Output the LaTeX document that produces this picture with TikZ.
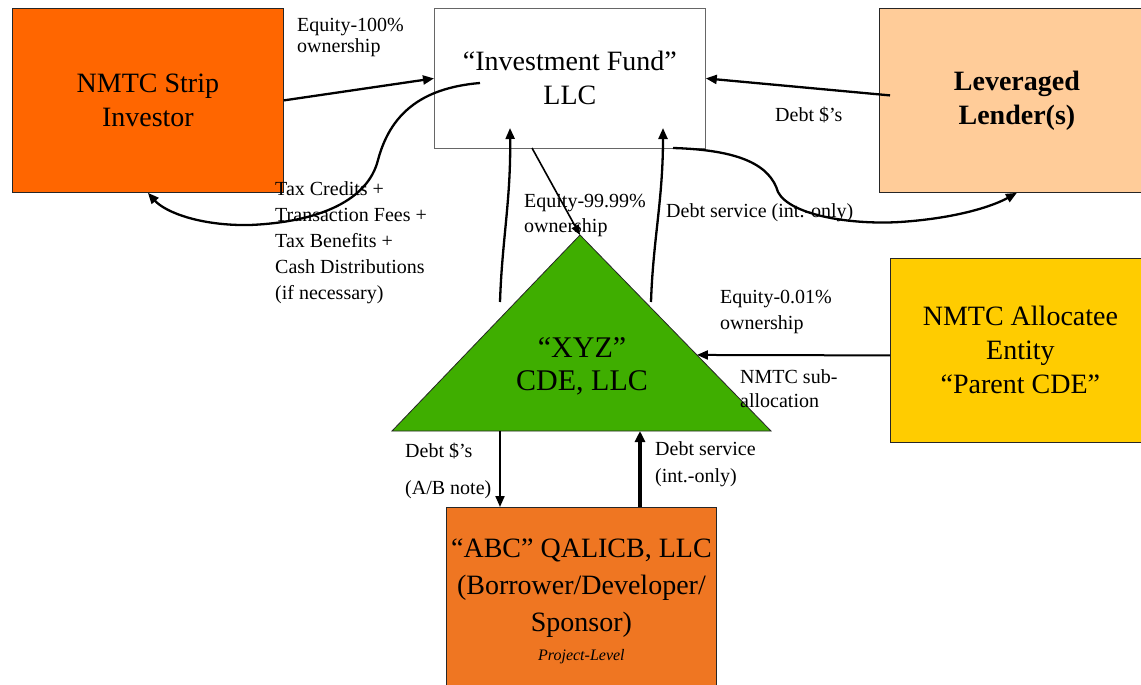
\documentclass[tikz,border=0pt]{standalone}
\usepackage{fontspec}
\setmainfont{Liberation Serif}
\usetikzlibrary{arrows.meta,calc}
\definecolor{stripc}{HTML}{FF6600}
\definecolor{lendc}{HTML}{FFCC99}
\definecolor{allocc}{HTML}{FFCC00}
\definecolor{tric}{HTML}{3FAE00}
\definecolor{abcc}{HTML}{EF7622}
\tikzset{
  box/.style={draw=black!85, line width=0.8pt, inner sep=0pt, align=center, anchor=north west},
  big/.style={font=\fontsize{28}{34}\selectfont},
  lbl/.style={font=\fontsize{20}{26}\selectfont, align=left, inner sep=0pt, anchor=west},
  flow/.style={line width=2.3pt, -{Triangle[length=11pt,width=9pt]}},
  thinflow/.style={line width=1.6pt, -{Triangle[length=10pt,width=8pt]}},
}
\begin{document}
\begin{tikzpicture}[x=1pt,y=-1pt]
\useasboundingbox (0,0) rectangle (1141,685);
% boxes
\node[box, big, fill=stripc, minimum width=271, minimum height=184] (strip) at (12,8) {NMTC Strip\\Investor};
\node[box, big, draw=black!60, fill=white, minimum width=271, minimum height=140] (if) at (434,8) {“Investment Fund”\\LLC};
\node[box, big, fill=lendc, minimum width=275, minimum height=184, font=\fontsize{28}{34}\selectfont\bfseries] (lender) at (879,8) {Leveraged\\Lender(s)};
\node[box, big, fill=allocc, minimum width=260, minimum height=184] (alloc) at (890,258) {NMTC Allocatee\\Entity\\“Parent CDE”};
\node[box, fill=abcc, minimum width=270, minimum height=188, font=\fontsize{28}{37}\selectfont] (abc) at (446,507) {“ABC” QALICB, LLC\\(Borrower/Developer/\\Sponsor)\\[-8pt]{\fontsize{16}{18}\selectfont\itshape Project-Level}};
% triangle
\coordinate (apex) at (580,235);
\coordinate (bl) at (392,431);
\coordinate (br) at (771,431);
\filldraw[fill=tric, draw=black!85, line width=0.8pt] (apex) -- (br) -- (bl) -- cycle;
\node[font=\fontsize{30}{33}\selectfont, align=center, inner sep=0pt] (xyz) at (582,366) {“XYZ”\\CDE, LLC};
% helper coordinates
\coordinate (side) at ($(apex)!0.612!(br)$);
\coordinate (c1s) at (480,83);
\coordinate (c2s) at (673,148);
\coordinate (v1s) at (500,302);
\coordinate (v1e) at (510,128);
\coordinate (v2s) at (651,302);
\coordinate (v2e) at (663,128);
\coordinate (e1) at (532,148);
\coordinate (b1) at (500,431);
\coordinate (b2) at (640,431);
% connectors
\draw[flow] (strip.east) -- (if.west);
\draw[flow] ([xshift=11pt,yshift=5pt]lender.west) -- (if.east);
\draw[flow] (c1s) .. controls (420,88) and (390,115) .. (378,160)
  .. controls (368,200) and (320,222) .. (250,225)
  .. controls (200,226) and (165,212) .. (strip.south);
\draw[flow] (c2s) .. controls (740,150) and (770,165) .. (778,192)
  .. controls (790,215) and (850,225) .. (900,222)
  .. controls (960,218) and (995,205) .. (lender.south);
\draw[flow] (v1s) .. controls (502,240) and (511,200) .. (v1e);
\draw[flow] (v2s) .. controls (653,240) and (663,200) .. (v2e);
\draw[thinflow] (e1) -- (apex);
\draw[line width=2pt, -{Triangle[length=11pt,width=9pt]}] ([yshift=-5pt]alloc.west) -- (side);
\draw[line width=2pt, -{Triangle[length=11pt,width=9pt]}] (b1) -- (b1 |- abc.north);
\draw[line width=3.4pt, -{Triangle[length=11pt,width=10pt]}] (b2 |- abc.north) -- (b2);
% labels
\node[lbl, font=\fontsize{20}{21}\selectfont] (l1) at (297,37) {Equity-100\%\\ownership};
\node[lbl] (l2) at (775,115) {Debt \$’s};
\node[lbl] (l3) at (275,243) {Tax Credits +\\Transaction Fees +\\Tax Benefits +\\Cash Distributions\\(if necessary)};
\node[lbl, font=\fontsize{20}{25}\selectfont] (l4) at (524,215) {Equity-99.99\%\\ownership};
\node[lbl] (l5) at (666,213) {Debt service (int.-only)};
\node[lbl] (l6) at (720,312) {Equity-0.01\%\\ownership};
\node[lbl, font=\fontsize{20}{24}\selectfont] (l7) at (740,389) {NMTC sub-\\allocation};
\node[lbl] (l8) at (405,451) {Debt \$’s};
\node[lbl] (l9) at (405,490) {(A/B note)};
\node[lbl, font=\fontsize{20}{27}\selectfont] (l10) at (655,464) {Debt service\\(int.-only)};
\end{tikzpicture}
\end{document}
